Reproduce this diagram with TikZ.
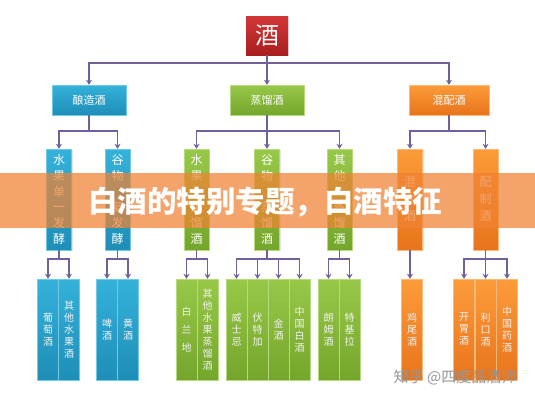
\documentclass[tikz,border=0pt]{standalone}
\usepackage{fontspec}
\setmainfont{Noto Sans CJK SC}
\usetikzlibrary{arrows.meta,calc,shadows}
\definecolor{cred}{RGB}{210,55,55}
\definecolor{credd}{RGB}{170,30,30}
\definecolor{cblue}{RGB}{52,178,218}
\definecolor{cblued}{RGB}{30,142,184}
\definecolor{cgreen}{RGB}{152,200,72}
\definecolor{cgreend}{RGB}{116,166,44}
\definecolor{corange}{RGB}{252,155,58}
\definecolor{coranged}{RGB}{232,116,28}
\definecolor{cline}{RGB}{115,95,155}
\definecolor{cbanner}{RGB}{240,130,50}
\definecolor{cwm}{RGB}{150,150,150}
\tikzset{
  x=1pt, y=-1pt,
  shad/.style={drop shadow={opacity=0.22,shadow xshift=1.2pt,shadow yshift=-1.2pt}},
  redbox/.style={top color=cred, bottom color=credd},
  bluebox/.style={top color=cblue, bottom color=cblued, draw=cblue!70!white, line width=0.4pt},
  greenbox/.style={top color=cgreen, bottom color=cgreend, draw=cgreen!70!white, line width=0.4pt},
  orangebox/.style={top color=corange, bottom color=coranged, draw=corange!70!white, line width=0.4pt},
  rootbox/.style={redbox, shad, minimum width=42pt, minimum height=39pt, inner sep=0pt, text=white, font=\fontsize{24}{26}\selectfont},
  lvtwo/.style={shad, minimum width=74pt, minimum height=30pt, inner sep=0pt, text=white, font=\fontsize{11}{13}\selectfont},
  lvthree/.style={shad, minimum width=25pt, minimum height=101pt, inner sep=0pt, text=white, align=center, font=\fontsize{12}{15.8}\selectfont},
  lvfour/.style={minimum width=21pt, minimum height=101pt, inner sep=0pt, text=white!90!gray, align=center, font=\fontsize{10}{12}\selectfont},
  conn/.style={draw=cline, line width=1.6pt},
  arr/.style={conn, -{Stealth[length=5pt,width=6pt]}},
}
\begin{document}
\begin{tikzpicture}
\useasboundingbox (0,0) rectangle (535,400);
\fill[white] (0,0) rectangle (535,400);
% root
\node[rootbox] (root) at (267,35.5) {酒};
% level 2
\node[lvtwo, bluebox] (b1) at (89,100) {酿造酒};
\node[lvtwo, greenbox] (b2) at (267,100) {蒸馏酒};
\node[lvtwo, orangebox, minimum width=80pt] (b3) at (449,100) {混配酒};
% level 3
\node[lvthree, bluebox] (c1) at (59,199.5) {水\\果\\单\\一\\发\\酵};
\node[lvthree, bluebox] (c2) at (117.5,199.5) {谷\\物\\ \\复\\发\\酵};
\node[lvthree, greenbox] (c3) at (196.5,199.5) {水\\果\\ \\蒸\\馏\\酒};
\node[lvthree, greenbox] (c4) at (267,199.5) {谷\\物\\ \\蒸\\馏\\酒};
\node[lvthree, greenbox] (c5) at (339.5,199.5) {其\\他\\ \\蒸\\馏\\酒};
\node[lvthree, orangebox, font=\fontsize{12}{17}\selectfont] (c6) at (410,199.5) {混\\合\\酒};
\node[lvthree, orangebox, font=\fontsize{12}{17}\selectfont] (c7) at (485.5,199.5) {配\\制\\酒};
% level 4
\node[lvfour, bluebox] (d1) at (48,329.5) {葡\\萄\\酒};
\node[lvfour, bluebox] (d2) at (69,329.5) {其\\他\\水\\果\\酒};
\node[lvfour, bluebox] (d3) at (107,329.5) {啤\\酒};
\node[lvfour, bluebox] (d4) at (128,329.5) {黄\\酒};
\node[lvfour, greenbox, font=\fontsize{10}{18}\selectfont] (d5) at (186.5,329.5) {白\\兰\\地};
\node[lvfour, greenbox] (d6) at (207.5,329.5) {其\\他\\水\\果\\蒸\\馏\\酒};
\node[lvfour, greenbox] (d7) at (236.5,329.5) {威\\士\\忌};
\node[lvfour, greenbox] (d8) at (257.5,329.5) {伏\\特\\加};
\node[lvfour, greenbox] (d9) at (278.5,329.5) {金\\酒};
\node[lvfour, greenbox] (d10) at (299.5,329.5) {中\\国\\白\\酒};
\node[lvfour, greenbox] (d11) at (328.5,329.5) {朗\\姆\\酒};
\node[lvfour, greenbox] (d12) at (349.5,329.5) {特\\基\\拉};
\node[lvfour, orangebox] (d13) at (412,329.5) {鸡\\尾\\酒};
\node[lvfour, orangebox] (d14) at (464,329.5) {开\\胃\\酒};
\node[lvfour, orangebox] (d15) at (485.5,329.5) {利\\口\\酒};
\node[lvfour, orangebox] (d16) at (507,329.5) {中\\国\\药\\酒};
% connectors root -> level 2
\coordinate (h0) at ($(root.south)+(0,-8pt)$);
\draw[conn] (root.south) -- (h0);
\draw[arr] (h0) -| (b1.north);
\draw[arr] (h0) -- (b2.north);
\draw[arr] (h0) -| (b3.north);
% level 2 -> level 3
\coordinate (h1) at ($(b1.south)+(0,-16pt)$);
\draw[conn] (b1.south) -- (h1);
\draw[arr] (h1) -| (c1.north);
\draw[arr] (h1) -| (c2.north);
\coordinate (h2) at ($(b2.south)+(0,-16pt)$);
\draw[conn] (b2.south) -- (h2);
\draw[arr] (h2) -| (c3.north);
\draw[arr] (h2) -- (c4.north);
\draw[arr] (h2) -| (c5.north);
\coordinate (h3) at ($(b3.south)+(0,-16pt)$);
\draw[conn] (b3.south) -- (h3);
\draw[arr] (h3) -| (c6.north);
\draw[arr] (h3) -| (c7.north);
% level 3 -> level 4
\coordinate (k1) at ($(c1.south)+(0,-9pt)$);
\draw[conn] (c1.south) -- (k1);
\draw[arr] (k1) -| (d1.north);
\draw[arr] (k1) -| (d2.north);
\coordinate (k2) at ($(c2.south)+(0,-9pt)$);
\draw[conn] (c2.south) -- (k2);
\draw[arr] (k2) -| (d3.north);
\draw[arr] (k2) -| (d4.north);
\coordinate (k3) at ($(c3.south)+(0,-9pt)$);
\draw[conn] (c3.south) -- (k3);
\draw[arr] (k3) -| (d5.north);
\draw[arr] (k3) -| (d6.north);
\coordinate (k4) at ($(c4.south)+(0,-9pt)$);
\draw[conn] (c4.south) -- (k4);
\draw[arr] (k4) -| (d7.north);
\draw[arr] (k4) -| (d8.north);
\draw[arr] (k4) -| (d9.north);
\draw[arr] (k4) -| (d10.north);
\coordinate (k5) at ($(c5.south)+(0,-9pt)$);
\draw[conn] (c5.south) -- (k5);
\draw[arr] (k5) -| (d11.north);
\draw[arr] (k5) -| (d12.north);
\draw[arr] (c6.south) -- (c6.south |- d13.north);
\coordinate (k7) at ($(c7.south)+(0,-9pt)$);
\draw[conn] (c7.south) -- (k7);
\draw[arr] (k7) -| (d14.north);
\draw[arr] (k7) -- (d15.north);
\draw[arr] (k7) -| (d16.north);
% watermark
\node[text=cwm, font=\fontsize{15}{17}\selectfont, inner sep=0pt] (wm) at (455,377) {知乎 @四度品酒师};
% banner
\fill[cbanner, opacity=0.72] (0,173) rectangle (535,228);
\node[text=white, font=\fontsize{29.5}{32}\selectfont\bfseries, inner sep=0pt] (title) at (265,202) {白酒的特别专题，白酒特征};
\end{tikzpicture}
\end{document}
